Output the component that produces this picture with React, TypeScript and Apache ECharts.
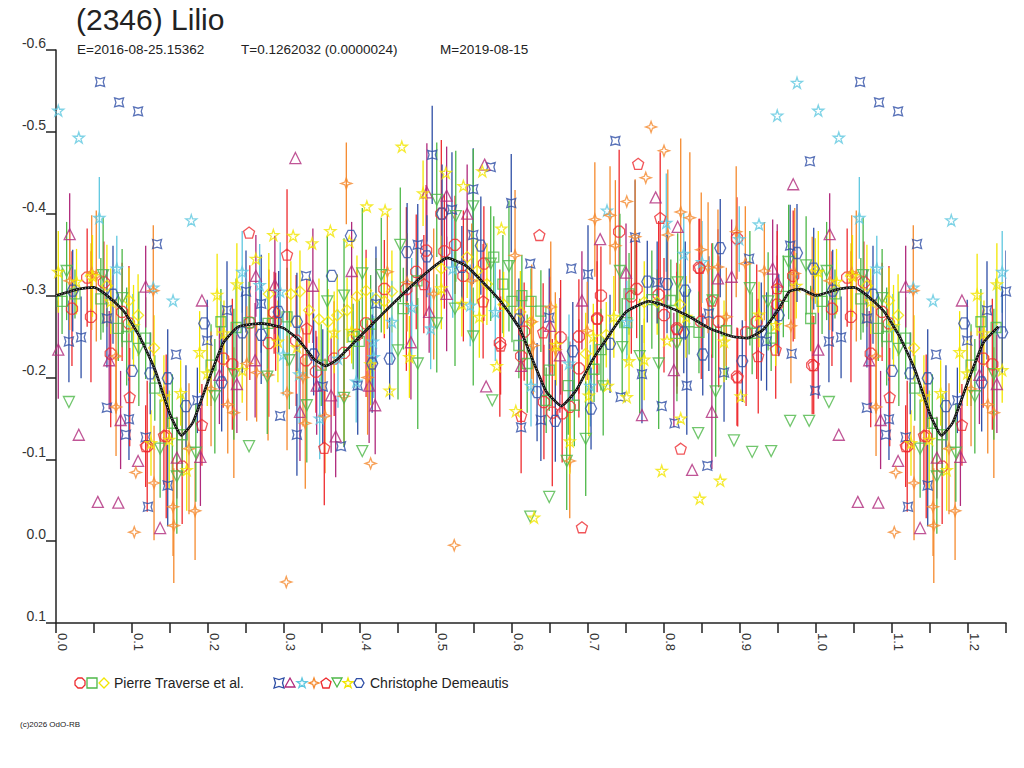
import React, { useEffect, useRef } from "react";
import * as echarts from "echarts";

type Obs = [number, number, number]; // phase, magnitude, error

// ---- Pierre Traverse et al. ----
const ptCircle: Obs[] = [
  [0.021, -0.284, 0.07], [0.041, -0.322, 0.06], [0.046, -0.274, 0.08], [0.063, -0.316, 0.05], [0.072, -0.229, 0.09],
  [0.087, -0.28, 0.06], [0.096, -0.266, 0.07], [0.12, -0.116, 0.08], [0.145, -0.128, 0.1], [0.166, -0.091, 0.07],
  [0.22, -0.223, 0.06], [0.232, -0.216, 0.08], [0.255, -0.267, 0.07], [0.28, -0.242, 0.09], [0.287, -0.279, 0.05],
  [0.289, -0.268, 0.06], [0.316, -0.245, 0.08], [0.329, -0.221, 0.06], [0.342, -0.207, 0.05], [0.366, -0.223, 0.07],
  [0.379, -0.23, 0.06], [0.396, -0.252, 0.08], [0.408, -0.266, 0.09], [0.432, -0.308, 0.06], [0.461, -0.308, 0.1],
  [0.474, -0.329, 0.07], [0.487, -0.355, 0.08], [0.507, -0.4, 0.09], [0.511, -0.354, 0.07], [0.525, -0.362, 0.06],
  [0.536, -0.324, 0.08], [0.563, -0.339, 0.07], [0.584, -0.242, 0.09], [0.612, -0.226, 0.08], [0.616, -0.256, 0.06],
  [0.642, -0.17, 0.07], [0.653, -0.157, 0.09], [0.664, -0.249, 0.07], [0.666, -0.156, 0.06], [0.676, -0.164, 0.08],
  [0.688, -0.211, 0.06], [0.688, -0.25, 0.07], [0.712, -0.272, 0.09], [0.717, -0.3, 0.06], [0.741, -0.378, 0.1],
  [0.757, -0.299, 0.07], [0.764, -0.308, 0.06], [0.793, -0.301, 0.09], [0.8, -0.276, 0.07], [0.817, -0.26, 0.08],
  [0.846, -0.334, 0.06], [0.849, -0.268, 0.07], [0.872, -0.268, 0.08], [0.896, -0.201, 0.06], [0.896, -0.37, 0.05],
  [0.908, -0.255, 0.09], [0.922, -0.268, 0.07], [0.949, -0.289, 0.06], [0.97, -0.324, 0.08], [0.995, -0.215, 0.06],
];
const ptSquare: Obs[] = [
  [0.008, -0.293, 0.04], [0.025, -0.302, 0.03], [0.059, -0.296, 0.05], [0.082, -0.26, 0.04], [0.093, -0.25, 0.06],
  [0.118, -0.248, 0.05], [0.13, -0.187, 0.04], [0.153, -0.144, 0.06], [0.166, -0.13, 0.05], [0.204, -0.215, 0.05],
  [0.217, -0.268, 0.04], [0.237, -0.261, 0.06], [0.254, -0.267, 0.05], [0.279, -0.266, 0.04], [0.304, -0.274, 0.06],
  [0.349, -0.215, 0.05], [0.391, -0.25, 0.04], [0.399, -0.244, 0.05], [0.414, -0.265, 0.06], [0.457, -0.284, 0.05],
  [0.475, -0.318, 0.04], [0.576, -0.347, 0.05], [0.588, -0.314, 0.06], [0.6, -0.293, 0.05], [0.609, -0.239, 0.04],
  [0.613, -0.3, 0.05], [0.62, -0.217, 0.06], [0.625, -0.293, 0.04], [0.638, -0.281, 0.05], [0.645, -0.172, 0.04],
  [0.649, -0.209, 0.05], [0.674, -0.19, 0.06], [0.682, -0.166, 0.05], [0.708, -0.21, 0.04], [0.717, -0.234, 0.05],
  [0.751, -0.267, 0.04], [0.754, -0.302, 0.05], [0.784, -0.295, 0.06], [0.809, -0.294, 0.05], [0.833, -0.268, 0.04],
  [0.846, -0.255, 0.05], [0.882, -0.257, 0.06], [0.916, -0.254, 0.05], [0.941, -0.248, 0.04], [0.957, -0.299, 0.05],
  [0.993, -0.272, 0.04],
];
const ptDiamond: Obs[] = [
  [0.046, -0.324, 0.04], [0.067, -0.312, 0.05], [0.096, -0.294, 0.04], [0.108, -0.276, 0.05], [0.129, -0.236, 0.04],
  [0.28, -0.302, 0.05], [0.309, -0.302, 0.04], [0.321, -0.305, 0.05], [0.333, -0.282, 0.04], [0.346, -0.271, 0.05],
  [0.358, -0.268, 0.04], [0.37, -0.276, 0.05], [0.383, -0.282, 0.04], [0.396, -0.299, 0.05], [0.408, -0.306, 0.04],
  [0.421, -0.296, 0.05], [0.432, -0.293, 0.04], [0.442, -0.305, 0.05], [0.507, -0.333, 0.04], [0.541, -0.347, 0.05],
  [0.554, -0.33, 0.04], [0.567, -0.314, 0.05], [0.589, -0.289, 0.04], [0.611, -0.28, 0.05], [0.625, -0.268, 0.04],
  [0.697, -0.229, 0.05], [0.724, -0.252, 0.04], [0.774, -0.292, 0.05], [0.791, -0.292, 0.04], [0.821, -0.289, 0.05],
  [0.999, -0.33, 0.04],
];

// ---- Christophe Demeautis ----
const cdQuad: Obs[] = [
  [0.017, -0.244, 0.05], [0.033, -0.249, 0.05], [0.058, -0.561, 0], [0.067, -0.272, 0.06], [0.067, -0.163, 0],
  [0.083, -0.536, 0], [0.092, -0.13, 0], [0.096, -0.149, 0.05], [0.108, -0.525, 0], [0.118, -0.127, 0],
  [0.121, -0.042, 0], [0.133, -0.363, 0], [0.147, -0.068, 0.05], [0.158, -0.228, 0], [0.186, -0.172, 0.04],
  [0.199, -0.245, 0.05], [0.225, -0.282, 0.06], [0.25, -0.305, 0.05], [0.27, -0.29, 0.06], [0.295, -0.153, 0],
  [0.317, -0.13, 0.05], [0.329, -0.324, 0], [0.351, -0.189, 0.07], [0.375, -0.116, 0], [0.397, -0.19, 0.06],
  [0.421, -0.29, 0.07], [0.476, -0.362, 0.05], [0.495, -0.472, 0.06], [0.521, -0.405, 0.07], [0.549, -0.43, 0.05],
  [0.549, -0.374, 0.06], [0.572, -0.457, 0], [0.599, -0.413, 0.06], [0.612, -0.139, 0], [0.624, -0.339, 0],
  [0.638, -0.148, 0.05], [0.649, -0.273, 0.06], [0.678, -0.333, 0], [0.7, -0.326, 0.06], [0.736, -0.489, 0],
  [0.743, -0.176, 0], [0.762, -0.371, 0.07], [0.771, -0.204, 0.06], [0.791, -0.316, 0.05], [0.797, -0.165, 0],
  [0.814, -0.144, 0], [0.83, -0.19, 0.06], [0.857, -0.092, 0], [0.859, -0.278, 0.07], [0.879, -0.206, 0.06],
  [0.912, -0.345, 0], [0.935, -0.244, 0.06], [0.966, -0.361, 0.05], [0.968, -0.229, 0], [0.992, -0.464, 0],
  [0.999, -0.184, 0],
];
const cdTriangle: Obs[] = [
  [0.003, -0.234, 0.06], [0.018, -0.375, 0.05], [0.03, -0.13, 0], [0.055, -0.048, 0], [0.07, -0.221, 0.06],
  [0.082, -0.047, 0], [0.085, -0.148, 0.06], [0.108, -0.098, 0], [0.118, -0.311, 0.05], [0.137, -0.016, 0],
  [0.159, -0.102, 0.05], [0.19, -0.103, 0.06], [0.192, -0.294, 0], [0.215, -0.203, 0.06], [0.238, -0.192, 0.06],
  [0.262, -0.221, 0.07], [0.263, -0.324, 0.05], [0.288, -0.313, 0.06], [0.315, -0.468, 0], [0.321, -0.158, 0.06],
  [0.338, -0.312, 0.07], [0.343, -0.19, 0.06], [0.362, -0.178, 0.07], [0.368, -0.128, 0.05], [0.389, -0.33, 0.06],
  [0.412, -0.19, 0.07], [0.42, -0.166, 0.06], [0.467, -0.243, 0.07], [0.488, -0.426, 0.06], [0.491, -0.28, 0.05],
  [0.514, -0.422, 0.06], [0.514, -0.302, 0.07], [0.541, -0.4, 0.06], [0.564, -0.46, 0], [0.566, -0.189, 0],
  [0.612, -0.214, 0.07], [0.65, -0.263, 0.06], [0.663, -0.227, 0.07], [0.692, -0.294, 0.06], [0.716, -0.369, 0],
  [0.75, -0.328, 0.06], [0.771, -0.154, 0], [0.789, -0.42, 0], [0.813, -0.209, 0.07], [0.818, -0.384, 0],
  [0.837, -0.087, 0], [0.863, -0.158, 0.07], [0.871, -0.321, 0.06], [0.889, -0.323, 0.07], [0.943, -0.333, 0.06],
  [0.949, -0.317, 0.07], [0.97, -0.436, 0],
];
const cdCyanStar: Obs[] = [
  [0.003, -0.526, 0], [0.03, -0.493, 0], [0.057, -0.395, 0.05], [0.08, -0.333, 0.04], [0.101, -0.262, 0.04],
  [0.128, -0.31, 0], [0.154, -0.294, 0], [0.178, -0.392, 0], [0.245, -0.329, 0.05], [0.268, -0.313, 0.05],
  [0.295, -0.305, 0.06], [0.299, -0.228, 0.05], [0.32, -0.204, 0.06], [0.347, -0.15, 0.05], [0.371, -0.223, 0.06],
  [0.395, -0.195, 0.05], [0.417, -0.244, 0.06], [0.418, -0.225, 0.05], [0.442, -0.268, 0.05], [0.468, -0.286, 0.06],
  [0.493, -0.26, 0.05], [0.522, -0.333, 0.06], [0.545, -0.288, 0.05], [0.578, -0.28, 0.06], [0.625, -0.19, 0.05],
  [0.675, -0.217, 0.06], [0.703, -0.19, 0.05], [0.725, -0.404, 0], [0.751, -0.268, 0.05], [0.803, -0.389, 0.06],
  [0.826, -0.351, 0.05], [0.85, -0.341, 0.05], [0.899, -0.369, 0.04], [0.925, -0.387, 0], [0.949, -0.52, 0],
  [0.975, -0.56, 0],
];
const cdOrangeStar: Obs[] = [
  [0.018, -0.318, 0.06], [0.047, -0.328, 0.07], [0.053, -0.324, 0.08], [0.079, -0.226, 0.07], [0.079, -0.164, 0.06],
  [0.103, -0.011, 0], [0.105, -0.084, 0], [0.128, -0.306, 0.08], [0.129, -0.071, 0.07], [0.154, -0.042, 0.06],
  [0.155, -0.019, 0.07], [0.175, -0.113, 0.08], [0.183, -0.037, 0.06], [0.204, -0.186, 0.07], [0.226, -0.167, 0.06],
  [0.234, -0.157, 0.08], [0.251, -0.217, 0.07], [0.264, -0.206, 0.06], [0.279, -0.203, 0.08], [0.303, 0.05, 0],
  [0.304, -0.181, 0.07], [0.325, -0.2, 0.06], [0.328, -0.144, 0.08], [0.354, -0.153, 0.07], [0.379, -0.177, 0.06],
  [0.382, -0.437, 0.05], [0.41, -0.2, 0.07], [0.414, -0.095, 0], [0.436, -0.329, 0.07], [0.462, -0.316, 0.06],
  [0.497, -0.302, 0.08], [0.524, 0.005, 0], [0.547, -0.318, 0.07], [0.604, -0.349, 0.08], [0.626, -0.268, 0.07],
  [0.628, -0.239, 0.06], [0.651, -0.286, 0.08], [0.657, -0.234, 0.07], [0.676, -0.098, 0.07], [0.699, -0.257, 0.06],
  [0.709, -0.393, 0.07], [0.729, -0.398, 0.06], [0.736, -0.361, 0.08], [0.751, -0.415, 0], [0.762, -0.372, 0.07],
  [0.776, -0.444, 0], [0.783, -0.506, 0], [0.8, -0.477, 0], [0.805, -0.374, 0.08], [0.822, -0.402, 0.09],
  [0.834, -0.395, 0.08], [0.849, -0.356, 0.07], [0.858, -0.334, 0.08], [0.871, -0.335, 0.07], [0.882, -0.274, 0.06],
  [0.895, -0.378, 0.08], [0.907, -0.339, 0.07], [0.932, -0.33, 0.06], [0.967, -0.263, 0.07], [0.972, -0.327, 0.08],
  [0.995, -0.302, 0.07],
];
const cdPentagon: Obs[] = [
  [0.097, -0.176, 0.06], [0.118, -0.116, 0.05], [0.142, -0.129, 0.06], [0.192, -0.142, 0.05], [0.254, -0.377, 0],
  [0.304, -0.35, 0.08], [0.33, -0.26, 0.06], [0.353, -0.114, 0.07], [0.484, -0.314, 0.06], [0.562, -0.293, 0.07],
  [0.585, -0.239, 0.06], [0.612, -0.153, 0.07], [0.636, -0.374, 0], [0.641, -0.255, 0.06], [0.692, -0.017, 0],
  [0.712, -0.272, 0.07], [0.766, -0.461, 0], [0.795, -0.395, 0.08], [0.817, -0.259, 0.07], [0.822, -0.113, 0],
  [0.847, -0.334, 0.06], [0.863, -0.294, 0.07], [0.897, -0.2, 0.06], [0.924, -0.226, 0.07], [0.947, -0.234, 0.06],
  [0.949, -0.309, 0.07], [0.997, -0.215, 0.06],
];
const cdTriDown: Obs[] = [
  [0.014, -0.33, 0.06], [0.017, -0.17, 0], [0.062, -0.325, 0.07], [0.087, -0.297, 0.06], [0.109, -0.235, 0.07],
  [0.137, -0.113, 0.06], [0.159, -0.079, 0.07], [0.184, -0.108, 0.06], [0.209, -0.177, 0.07], [0.234, -0.204, 0.08],
  [0.254, -0.116, 0], [0.278, -0.201, 0.07], [0.307, -0.221, 0.06], [0.33, -0.166, 0.07], [0.357, -0.293, 0.08],
  [0.379, -0.3, 0.07], [0.379, -0.175, 0.06], [0.403, -0.327, 0.08], [0.403, -0.11, 0], [0.428, -0.325, 0.07],
  [0.45, -0.233, 0.06], [0.453, -0.362, 0.07], [0.476, -0.217, 0.08], [0.501, -0.417, 0.07], [0.501, -0.266, 0.06],
  [0.525, -0.284, 0.07], [0.526, -0.397, 0.08], [0.549, -0.409, 0.07], [0.549, -0.25, 0.06], [0.572, -0.339, 0.07],
  [0.574, -0.172, 0], [0.596, -0.336, 0.08], [0.624, -0.03, 0], [0.649, -0.054, 0], [0.672, -0.098, 0.06],
  [0.697, -0.125, 0.07], [0.72, -0.189, 0.06], [0.742, -0.33, 0.07], [0.745, -0.237, 0.06], [0.768, -0.226, 0.07],
  [0.793, -0.217, 0.08], [0.817, -0.241, 0.07], [0.818, -0.316, 0.06], [0.845, -0.132, 0], [0.864, -0.294, 0.07],
  [0.868, -0.183, 0.08], [0.892, -0.123, 0], [0.913, -0.309, 0.07], [0.916, -0.109, 0], [0.937, -0.293, 0.06],
  [0.941, -0.11, 0], [0.964, -0.341, 0.07], [0.966, -0.147, 0], [0.987, -0.337, 0.06], [0.991, -0.147, 0],
];
const cdYellowStar: Obs[] = [
  [0.003, -0.329, 0.05], [0.027, -0.317, 0.04], [0.048, -0.324, 0.05], [0.072, -0.293, 0.04], [0.102, -0.263, 0.05],
  [0.125, -0.12, 0.04], [0.142, -0.177, 0.05], [0.149, -0.124, 0.06], [0.164, -0.181, 0.04], [0.172, -0.087, 0.05],
  [0.189, -0.231, 0.05], [0.199, -0.205, 0.04], [0.212, -0.301, 0.05], [0.221, -0.254, 0.04], [0.238, -0.314, 0.05],
  [0.245, -0.209, 0.04], [0.263, -0.345, 0], [0.286, -0.374, 0], [0.292, -0.244, 0.05], [0.312, -0.373, 0],
  [0.317, -0.237, 0.04], [0.337, -0.364, 0], [0.361, -0.379, 0], [0.366, -0.255, 0.05], [0.386, -0.366, 0],
  [0.389, -0.257, 0.04], [0.409, -0.409, 0], [0.414, -0.216, 0.05], [0.433, -0.404, 0], [0.439, -0.184, 0],
  [0.455, -0.482, 0], [0.465, -0.225, 0.05], [0.483, -0.425, 0.04], [0.507, -0.309, 0.05], [0.513, -0.45, 0],
  [0.534, -0.29, 0.04], [0.536, -0.434, 0], [0.557, -0.274, 0.05], [0.561, -0.452, 0], [0.58, -0.214, 0],
  [0.586, -0.382, 0], [0.605, -0.159, 0], [0.629, -0.029, 0], [0.658, -0.24, 0.05], [0.676, -0.122, 0.04],
  [0.701, -0.178, 0.05], [0.707, -0.25, 0.04], [0.726, -0.19, 0], [0.734, -0.274, 0.05], [0.751, -0.176, 0],
  [0.754, -0.22, 0.04], [0.774, -0.222, 0.05], [0.797, -0.086, 0], [0.804, -0.245, 0], [0.822, -0.15, 0],
  [0.829, -0.274, 0.05], [0.847, -0.052, 0], [0.874, -0.074, 0], [0.879, -0.244, 0.05], [0.901, -0.177, 0],
  [0.925, -0.277, 0.04], [0.947, -0.264, 0.05], [0.974, -0.312, 0.04],
];
const cdHexagon: Obs[] = [
  [0.022, -0.306, 0.05], [0.075, -0.301, 0.06], [0.1, -0.208, 0], [0.124, -0.205, 0.05], [0.147, -0.199, 0.06],
  [0.171, -0.165, 0.05], [0.195, -0.266, 0], [0.218, -0.194, 0.06], [0.245, -0.255, 0.05], [0.27, -0.252, 0.06],
  [0.293, -0.28, 0.05], [0.317, -0.268, 0.06], [0.339, -0.228, 0.05], [0.363, -0.324, 0], [0.388, -0.373, 0],
  [0.416, -0.217, 0.06], [0.439, -0.223, 0.05], [0.462, -0.353, 0.06], [0.488, -0.348, 0.05], [0.508, -0.4, 0.06],
  [0.534, -0.335, 0.05], [0.559, -0.361, 0.06], [0.609, -0.271, 0.05], [0.633, -0.182, 0.06], [0.657, -0.147, 0.05],
  [0.68, -0.232, 0.06], [0.704, -0.162, 0.05], [0.729, -0.241, 0.06], [0.778, -0.317, 0.05], [0.804, -0.314, 0.06],
  [0.826, -0.255, 0.05], [0.828, -0.306, 0.06], [0.851, -0.228, 0.05], [0.874, -0.358, 0.06], [0.903, -0.22, 0.05],
  [0.928, -0.256, 0.06], [0.951, -0.276, 0.05], [0.975, -0.352, 0.06], [0.997, -0.333, 0.05],
];

// fitted light curve
const fitPhase = [
  0, 0.03, 0.05, 0.07, 0.09, 0.11, 0.13, 0.15, 0.165, 0.18, 0.2, 0.22, 0.24, 0.27, 0.3, 0.32, 0.34, 0.355, 0.37,
  0.4, 0.43, 0.46, 0.49, 0.515, 0.54, 0.56, 0.585, 0.61, 0.63, 0.645, 0.665, 0.685, 0.705, 0.725, 0.75, 0.78, 0.8,
  0.83, 0.86, 0.89, 0.91, 0.93, 0.95, 0.965, 0.98,
];
const fitMag = [
  -0.3, -0.308, -0.31, -0.298, -0.28, -0.25, -0.21, -0.155, -0.129, -0.145, -0.195, -0.242, -0.262, -0.266, -0.26,
  -0.245, -0.222, -0.214, -0.222, -0.25, -0.278, -0.305, -0.33, -0.346, -0.336, -0.318, -0.293, -0.26, -0.215,
  -0.183, -0.165, -0.185, -0.22, -0.248, -0.28, -0.293, -0.288, -0.276, -0.26, -0.25, -0.248, -0.258, -0.282,
  -0.305, -0.308,
];

const PHASE_MAX = 1.25;
const titleText = "(2346) Lilio";
const infoTexts = ["E=2016-08-25.15362", "T=0.1262032 (0.0000024)", "M=2019-08-15"];
const observers = ["Pierre Traverse et al.", "Christophe Demeautis"];

const shapes: Record<string, number[][]> = {
  circle: [[3, 0], [7, 0], [10, 3], [10, 7], [7, 10], [3, 10], [0, 7], [0, 3]],
  square: [[0, 0], [10, 0], [10, 10], [0, 10]],
  diamond: [[5, 0], [10, 5], [5, 10], [0, 5]],
  quad: [[0, 0], [5, 1.5], [10, 0], [8.5, 5], [10, 10], [5, 8.5], [0, 10], [1.5, 5]],
  triUp: [[5, 0], [10, 9], [0, 9]],
  star5: [[5, 0], [6.2, 3.6], [10, 3.6], [6.9, 5.9], [8.1, 9.5], [5, 7.3], [1.9, 9.5], [3.1, 5.9], [0, 3.6], [3.8, 3.6]],
  star4: [[5, 0], [6.3, 3.7], [10, 5], [6.3, 6.3], [5, 10], [3.7, 6.3], [0, 5], [3.7, 3.7]],
  pentagon: [[5, 0], [10, 3.8], [8.1, 10], [1.9, 10], [0, 3.8]],
  triDown: [[0, 0], [10, 0], [5, 9]],
  hexagon: [[2.5, 0.7], [7.5, 0.7], [10, 5], [7.5, 9.3], [2.5, 9.3], [0, 5]],
};
const symbolPath = (k: string) => "path://M" + shapes[k].map((p) => p.join(",")).join(" L") + " Z";

const groups = [
  { data: ptCircle, shape: "circle", color: "#ee2b2f", size: 11 },
  { data: ptSquare, shape: "square", color: "#4db848", size: 10 },
  { data: ptDiamond, shape: "diamond", color: "#f2e600", size: 11 },
  { data: cdQuad, shape: "quad", color: "#2f4fa6", size: 9 },
  { data: cdTriangle, shape: "triUp", color: "#b02a7c", size: 11 },
  { data: cdCyanStar, shape: "star5", color: "#5fc8e0", size: 11 },
  { data: cdOrangeStar, shape: "star4", color: "#f58a2e", size: 11 },
  { data: cdPentagon, shape: "pentagon", color: "#ee2b2f", size: 11 },
  { data: cdTriDown, shape: "triDown", color: "#4db848", size: 11 },
  { data: cdYellowStar, shape: "star5", color: "#f2e600", size: 11 },
  { data: cdHexagon, shape: "hexagon", color: "#2f4fa6", size: 11 },
];

// folded light curve: phases below 0.25 repeated after 1.0
const fold = (pts: Obs[]): Obs[] =>
  pts.concat(pts.filter((p) => p[0] + 1 <= PHASE_MAX).map((p) => [p[0] + 1, p[1], p[2]] as Obs));

const FONT = "'Liberation Sans', Arial, sans-serif";

const App: React.FC = () => {
  const chartRef = useRef<HTMLDivElement>(null);

  useEffect(() => {
    if (!chartRef.current) return;
    const chart = echarts.init(chartRef.current, null, { renderer: "svg" });

    const series: any[] = [];
    groups.forEach((g) => {
      const pts = fold(g.data);
      series.push({
        type: "custom",
        data: pts,
        z: 1,
        silent: true,
        clip: true,
        encode: { x: 0, y: 1 },
        renderItem: (_p: any, api: any) => {
          const e = api.value(2);
          if (!e) return { type: "group", children: [] };
          const a = api.coord([api.value(0), api.value(1) - e]);
          const b = api.coord([api.value(0), api.value(1) + e]);
          return {
            type: "line",
            shape: { x1: a[0], y1: a[1], x2: b[0], y2: b[1] },
            style: { stroke: g.color, lineWidth: 1.3 },
          };
        },
      });
      series.push({
        type: "scatter",
        data: pts.map((p) => [p[0], p[1]]),
        symbol: symbolPath(g.shape),
        symbolSize: g.size,
        z: 2,
        silent: true,
        itemStyle: { color: "rgba(0,0,0,0)", borderColor: g.color, borderWidth: 1.3 },
      });
    });

    const fitPts: number[][] = fitPhase.map((p, i) => [p, fitMag[i]]);
    fitPts.push([1, fitMag[0]]);
    fitPhase.forEach((p, i) => {
      if (p > 0 && p + 1 <= PHASE_MAX) fitPts.push([p + 1, fitMag[i]]);
    });
    series.push({
      type: "line",
      data: fitPts,
      smooth: 0.15,
      symbol: "none",
      z: 3,
      silent: true,
      lineStyle: { color: "#111", width: 2.6 },
    });
    series.push({
      type: "line",
      data: fitPts,
      smooth: 0.15,
      symbol: "none",
      z: 4,
      silent: true,
      lineStyle: { color: "#ffffff", width: 0.7, type: [1, 2] },
    });

    // legend: icons + observer names
    const iconEl = (k: string, cx: number, cy: number, color: string) => ({
      type: "polygon",
      shape: { points: shapes[k].map((p) => [cx - 5 + p[0], cy - 5 + p[1]]) },
      style: { fill: "none", stroke: color, lineWidth: 1.3 },
    });
    const legendY = 683;
    const iconX1 = [80, 92, 104];
    const iconX2 = [279, 290, 302, 314, 326, 337, 348, 359];
    const graphic: any[] = [];
    groups.slice(0, 3).forEach((g, i) => graphic.push(iconEl(g.shape, iconX1[i], legendY, g.color)));
    groups.slice(3).forEach((g, i) => graphic.push(iconEl(g.shape, iconX2[i], legendY, g.color)));
    const txt = (text: string, x: number, y: number, size: number) => ({
      type: "text",
      x,
      y,
      style: {
        text,
        fill: "#222",
        font: `${size}px ${FONT}`,
        textAlign: "left",
        textVerticalAlign: "middle",
      },
    });
    graphic.push(txt(observers[0], 114, legendY, 14));
    graphic.push(txt(observers[1], 370, legendY, 14));
    graphic.push(txt(titleText, 76, 19, 30));
    graphic.push(txt(infoTexts[0], 77, 49, 13.5));
    graphic.push(txt(infoTexts[1], 241, 49, 13.5));
    graphic.push(txt(infoTexts[2], 440, 49, 13.5));
    graphic.push(txt("(c)2026 OdO-RB", 20, 724, 8));

    chart.setOption({
      animation: false,
      backgroundColor: "#ffffff",
      grid: { left: 56, right: 18, top: 50, bottom: 145, containLabel: false },
      xAxis: {
        type: "value",
        min: 0,
        max: PHASE_MAX,
        interval: 0.05,
        splitLine: { show: false },
        axisLine: { onZero: false, lineStyle: { color: "#222", width: 1.5 } },
        axisTick: { inside: false, length: 10, lineStyle: { color: "#222", width: 1.5 } },
        axisLabel: {
          rotate: -90,
          margin: 10,
          color: "#333",
          fontSize: 13,
          fontFamily: FONT,
          verticalAlign: "bottom",
          formatter: (v: number) => {
            const t = Math.round(v * 100);
            return t % 10 === 0 ? (t / 100).toFixed(1) : "";
          },
        },
      },
      yAxis: {
        type: "value",
        inverse: true,
        min: -0.6,
        max: 0.1,
        interval: 0.1,
        splitLine: { show: false },
        axisLine: { show: true, onZero: false, lineStyle: { color: "#222", width: 1.5 } },
        axisTick: { inside: false, length: 10, lineStyle: { color: "#222", width: 1.5 } },
        axisLabel: {
          margin: 10,
          color: "#333",
          fontSize: 14,
          fontFamily: FONT,
          verticalAlign: "bottom",
          formatter: (v: number) => (Math.abs(v) < 1e-9 ? "0.0" : v.toFixed(1)),
        },
      },
      graphic,
      series,
    });

    return () => {
      chart.dispose();
    };
  }, []);

  return (
    <div
      ref={chartRef}
      style={{ position: "absolute", left: 0, top: 0, width: "1024px", height: "768px", background: "#fff" }}
    />
  );
};

export default App;
